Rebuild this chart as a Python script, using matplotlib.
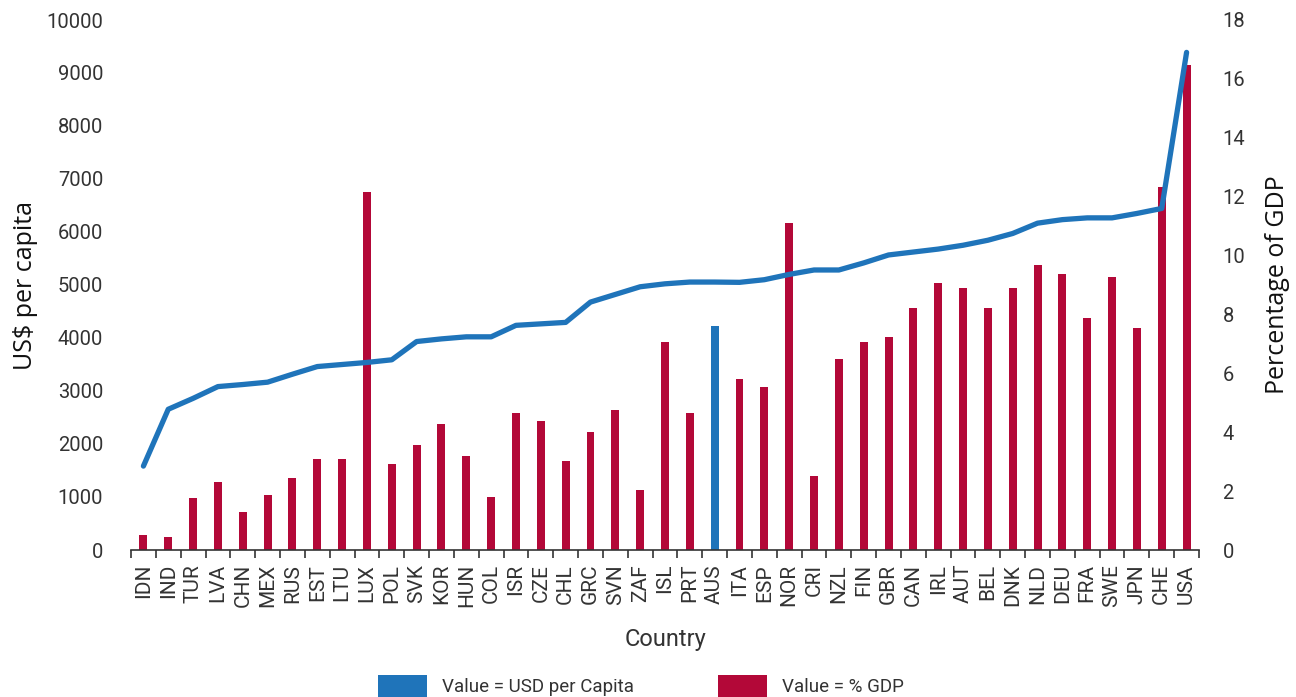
"""Gasto en salud por país: US$ per cápita (barras) y % del PIB (línea)."""

import matplotlib

matplotlib.use("Agg")
import matplotlib.pyplot as plt
import numpy as np
from matplotlib.patches import Patch

countries = [
    "IDN", "IND", "TUR", "LVA", "CHN", "MEX", "RUS", "EST", "LTU", "LUX", "POL",
    "SVK", "KOR", "HUN", "COL", "ISR", "CZE", "CHL", "GRC", "SVN", "ZAF", "ISL",
    "PRT", "AUS", "ITA", "ESP", "NOR", "CRI", "NZL", "FIN", "GBR", "CAN", "IRL",
    "AUT", "BEL", "DNK", "NLD", "DEU", "FRA", "SWE", "JPN", "CHE", "USA",
]
usd_per_capita = [
    285, 250, 990, 1285, 720, 1040, 1365, 1720, 1720, 6760, 1625,
    1990, 2375, 1780, 995, 2580, 2425, 1670, 2220, 2635, 1140, 3930,
    2580, 4230, 3225, 3075, 6170, 1405, 3600, 3930, 4025, 4560, 5030,
    4935, 4560, 4935, 5370, 5200, 4380, 5145, 4180, 6850, 9150,
]
pct_gdp = [
    2.85, 4.78, 5.15, 5.55, 5.62, 5.70, 5.97, 6.23, 6.30, 6.37, 6.46,
    7.08, 7.17, 7.24, 7.24, 7.63, 7.68, 7.73, 8.42, 8.68, 8.94, 9.04,
    9.10, 9.10, 9.09, 9.18, 9.36, 9.51, 9.51, 9.75, 10.02, 10.12, 10.22,
    10.35, 10.52, 10.75, 11.10, 11.22, 11.28, 11.28, 11.43, 11.60, 16.90,
]
highlight = "AUS"
usd_ticks = [0, 1000, 2000, 3000, 4000, 5000, 6000, 7000, 8000, 9000, 10000]
pct_ticks = [0, 2, 4, 6, 8, 10, 12, 14, 16, 18]

BLUE = "#1f74ba"
RED = "#b30838"
TICK_COLOR = "#333333"

fig = plt.figure(figsize=(12.96, 6.97), dpi=100)
ax = fig.add_axes([131 / 1296, 1 - 550 / 697, (1199 - 131) / 1296, (550 - 20) / 697])
ax2 = ax.twinx()

x = np.arange(len(countries))
bar_colors = [BLUE if c == highlight else RED for c in countries]
ax.bar(x, usd_per_capita, width=0.32, color=bar_colors, zorder=2)
ax2.plot(x, pct_gdp, color=BLUE, linewidth=3.8,
         solid_capstyle="round", solid_joinstyle="round", zorder=3)

ax.set_xlim(-0.5, len(countries) - 0.5)
ax.set_ylim(0, 10000)
ax2.set_ylim(0, 18)

ax.set_xticks(x)
ax.set_xticklabels(countries, rotation=90, fontsize=15, family="Roboto", color=TICK_COLOR)
ax.set_xticks(np.arange(-0.5, len(countries)), minor=True)
ax.tick_params(axis="x", which="major", length=0, pad=10)
ax.tick_params(axis="x", which="minor", length=6, width=1.2, color=TICK_COLOR, direction="out")

ax.set_yticks(usd_ticks)
ax.set_yticklabels([str(v) for v in usd_ticks], fontsize=14.5, family="Roboto", color=TICK_COLOR)
ax.tick_params(axis="y", length=0, pad=20)
ax2.set_yticks(pct_ticks)
ax2.set_yticklabels([str(v) for v in pct_ticks], fontsize=14.5, family="Roboto", color=TICK_COLOR)
ax2.tick_params(axis="y", length=0, pad=17)

for a in (ax, ax2):
    for side in ("top", "left", "right"):
        a.spines[side].set_visible(False)
ax2.spines["bottom"].set_visible(False)
ax.spines["bottom"].set_color(TICK_COLOR)
ax.spines["bottom"].set_linewidth(1.2)

ax.set_xlabel("Country", fontsize=17, family="Roboto", color=TICK_COLOR, labelpad=15)
ax.set_ylabel("US$ per capita", fontsize=18, family="Open Sans", color="#111111", labelpad=6)
ax2.set_ylabel("Percentage of GDP", fontsize=18, family="Open Sans", color="#111111",
               rotation=90, labelpad=14)

handles = [
    Patch(facecolor=BLUE, edgecolor="none", label="Value = USD per Capita"),
    Patch(facecolor=RED, edgecolor="none", label="Value = % GDP"),
]
fig.legend(
    handles=handles,
    loc="center left",
    bbox_to_anchor=(378 / 1296, 1 - 686 / 697),
    ncol=2,
    frameon=False,
    prop={"family": "Roboto", "size": 13.5},
    labelcolor=TICK_COLOR,
    handlelength=2.6,
    handleheight=1.35,
    handletextpad=0.8,
    columnspacing=4.5,
    borderpad=0,
    borderaxespad=0,
)

fig.savefig("out.png", dpi=100)
